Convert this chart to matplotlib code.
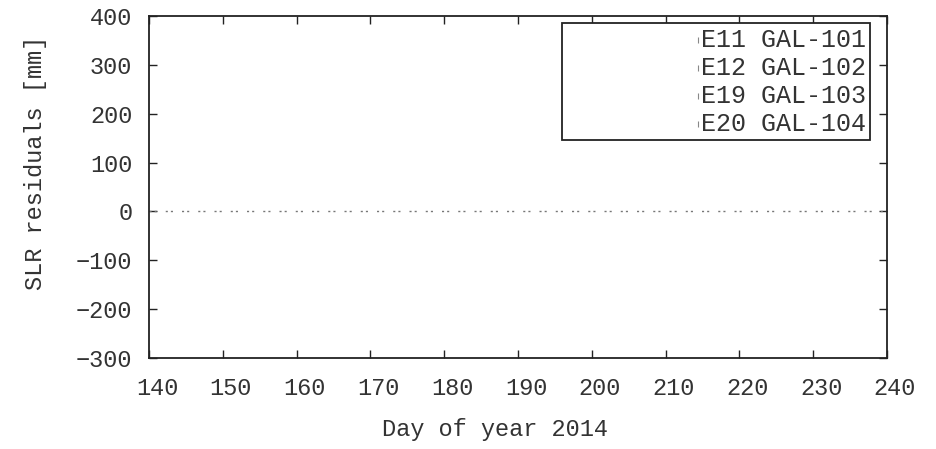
import matplotlib
matplotlib.use("Agg")
import matplotlib.pyplot as plt
import matplotlib.transforms as mtransforms
from matplotlib.patches import Rectangle

# Data (the plotted series are empty in the reference; only legend entries)
series_labels = ["E11 GAL-101", "E12 GAL-102", "E19 GAL-103", "E20 GAL-104"]
series_days = [[], [], [], []]
series_resid = [[], [], [], []]
x_ticks = [140, 150, 160, 170, 180, 190, 200, 210, 220, 230, 240]
y_ticks = [-300, -200, -100, 0, 100, 200, 300, 400]
x_range = (140, 240)
y_range = (-300, 400)

plt.rcParams['font.family'] = ['Liberation Mono', 'DejaVu Sans']
fs = 17
tc = '#333333'

W, H = 936, 449
fig = plt.figure(figsize=(W / 100, H / 100), dpi=100)
L, R, T, B = 149, 887, 16, 358
ax = fig.add_axes([L / W, 1 - B / H, (R - L) / W, (B - T) / H])

def ax_xy(px, py):
    return (px - L) / (R - L), (B - py) / (B - T)

for lab, xs, ys in zip(series_labels, series_days, series_resid):
    ax.plot(xs, ys, linestyle='none', marker='.', markersize=2, color='#555555', label=lab)

ax.axhline(0, color='#777777', linestyle=(0, (1.5, 2.2, 1.5, 6.5)), linewidth=1.0)

ax.set_xlim(*x_range)
ax.set_ylim(*y_range)
ax.set_xticks(x_ticks)
ax.set_yticks(y_ticks)
ax.set_xticklabels([str(v) for v in x_ticks])
ax.set_yticklabels([('\u2212' + str(-v)) if v < 0 else str(v) for v in y_ticks])
ax.tick_params(direction='in', top=True, right=True, length=6, width=1,
               labelsize=fs, color='#222222', labelcolor=tc)
ax.tick_params(axis='x', pad=14)
ax.tick_params(axis='y', pad=12)
for s in ax.spines.values():
    s.set_linewidth(1.3)
    s.set_color('#222222')

# shift x tick labels slightly right as in the reference
off = mtransforms.ScaledTranslation(8 / 100, 0, fig.dpi_scale_trans)
for lbl in ax.get_xticklabels():
    lbl.set_transform(lbl.get_transform() + off)

ax.set_xlabel("Day of year 2014", fontsize=fs, color=tc)
ax.set_ylabel("SLR residuals [mm]", fontsize=fs, color=tc)
ax.xaxis.set_label_coords((495 - L) / (R - L), (B - 418) / (B - T))
ax.yaxis.set_label_coords((47 - L) / (R - L), (B - 163) / (B - T))

# legend box (gnuplot style: right-aligned text, tiny sample marks)
x0, y0 = ax_xy(562, 140)
x1, y1 = ax_xy(870, 23)
ax.add_patch(Rectangle((x0, y0), x1 - x0, y1 - y0, transform=ax.transAxes,
                       fill=True, facecolor='white', edgecolor='#222222',
                       linewidth=1.3, clip_on=False, zorder=5))
row_y = [40, 68, 96, 124]
for lab, ry in zip(series_labels, row_y):
    tx, ty = ax_xy(866, ry)
    ax.text(tx, ty, lab, transform=ax.transAxes, ha='right', va='center',
            fontsize=18, color=tc, zorder=6)
    mx, my = ax_xy(698, ry)
    ax.plot([mx], [my], transform=ax.transAxes, marker='|', markersize=5,
            color='#888888', markeredgewidth=0.8, clip_on=False, zorder=6)

fig.savefig("out.png", dpi=100)
